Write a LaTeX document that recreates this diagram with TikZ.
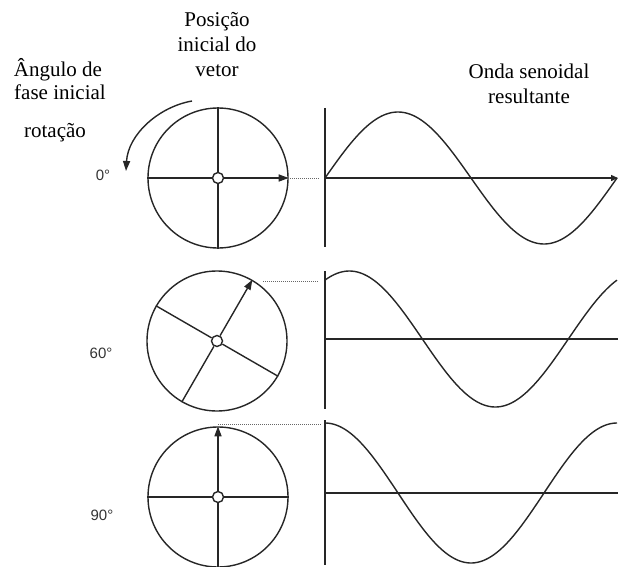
\documentclass[tikz,border=0pt]{standalone}
\usepackage{fontspec}
\setmainfont{Liberation Serif}
\newfontfamily\degfont{Liberation Sans}
\usetikzlibrary{arrows.meta}
\begin{document}
\begin{tikzpicture}[x=1pt,y=-1pt,
  ln/.style={line width=1.4pt, draw=black!85},
  wheel/.style={circle, draw=black!85, line width=1.4pt, minimum size=140pt, inner sep=0pt},
  hub/.style={circle, draw=black!85, line width=1.4pt, fill=white, minimum size=11pt, inner sep=0pt},
  vec/.style={ln, -{Triangle[length=10pt,width=7pt]}},
  dots/.style={line width=1pt, draw=black!60, dash pattern=on 1pt off 1pt},
  lbl/.style={font=\fontsize{21}{25}\selectfont, anchor=base, inner sep=0pt, text=black},
  deg/.style={font=\degfont\fontsize{15}{17}\selectfont, text=black!80, inner sep=0pt}
]
\useasboundingbox (0,0) rectangle (618,567);

% ---- labels ----
\node[lbl] (p1) at (217,27) {Posição};
\node[lbl] (p2) at (217,52) {inicial do};
\node[lbl] (p3) at (217,77) {vetor};
\node[lbl] (f1) at (58,77) {Ângulo de};
\node[lbl] (f2) at (60,100) {fase inicial};
\node[lbl] (rt) at (55,138) {rotação};
\node[lbl] (o1) at (529,79) {Onda senoidal};
\node[lbl] (o2) at (529,104) {resultante};
\node[deg] (g0) at (103,175) {0°};
\node[deg] (g60) at (101,353) {60°};
\node[deg] (g90) at (102,515) {90°};

% ---- rotation arrow ----
\coordinate (r0) at (192,101);
\coordinate (r1) at (126,171);
\draw[vec] (r0) .. controls (158,107) and (128,135) .. (r1);

% ---- wheel 0 deg ----
\node[wheel] (c1) at (218,178) {};
\node[hub] (h1) at (218,178) {};
\draw[ln] (h1) -- (c1.north);
\draw[ln] (h1) -- (c1.south);
\draw[ln] (h1) -- (c1.west);
\draw[vec] (h1) -- (c1.east);

% ---- wheel 60 deg ----
\node[wheel] (c2) at (217,341) {};
\node[hub] (h2) at (217,341) {};
\draw[ln] (h2) -- (c2.150);
\draw[ln] (h2) -- (c2.330);
\draw[ln] (h2) -- (c2.240);
\draw[vec] (h2) -- (c2.60);

% ---- wheel 90 deg ----
\node[wheel] (c3) at (218,497) {};
\node[hub] (h3) at (218,497) {};
\draw[ln] (h3) -- (c3.west);
\draw[ln] (h3) -- (c3.east);
\draw[ln] (h3) -- (c3.south);
\draw[vec] (h3) -- (c3.north);

% ---- dotted projections ----
\coordinate (d1a) at (290,178); \coordinate (d1b) at (320,178);
\coordinate (d2a) at (263,281); \coordinate (d2b) at (318,281);
\coordinate (d3a) at (218,424); \coordinate (d3b) at (322,424);
\draw[dots] (d1a) -- (d1b);
\draw[dots] (d2a) -- (d2b);
\draw[dots] (d3a) -- (d3b);

% ---- axes ----
\coordinate (v1t) at (325,108); \coordinate (v1b) at (325,247);
\coordinate (x1l) at (325,178); \coordinate (x1r) at (618,178);
\coordinate (v2t) at (325,271); \coordinate (v2b) at (325,409);
\coordinate (x2l) at (325,339); \coordinate (x2r) at (618,339);
\coordinate (v3t) at (325,420); \coordinate (v3b) at (325,565);
\coordinate (x3l) at (325,493); \coordinate (x3r) at (618,493);
\draw[ln] (v1t) -- (v1b);
\draw[ln, -{Triangle[length=7pt,width=6pt]}] (x1l) -- (x1r);
\draw[ln] (v2t) -- (v2b);
\draw[ln] (x2l) -- (x2r);
\draw[ln] (v3t) -- (v3b);
\draw[ln] (x3l) -- (x3r);

% ---- waves (period 292, 360/292 = 1.23288) ----
\draw[ln] plot[domain=0:292, samples=120, smooth] ({325+\x},{178-66*sin(1.23288*\x)});
\draw[ln] plot[domain=0:292, samples=120, smooth] ({325+\x},{339-68*sin(1.23288*\x+60)});
\draw[ln] plot[domain=0:292, samples=120, smooth] ({325+\x},{493-70*cos(1.23288*\x)});
\end{tikzpicture}
\end{document}
